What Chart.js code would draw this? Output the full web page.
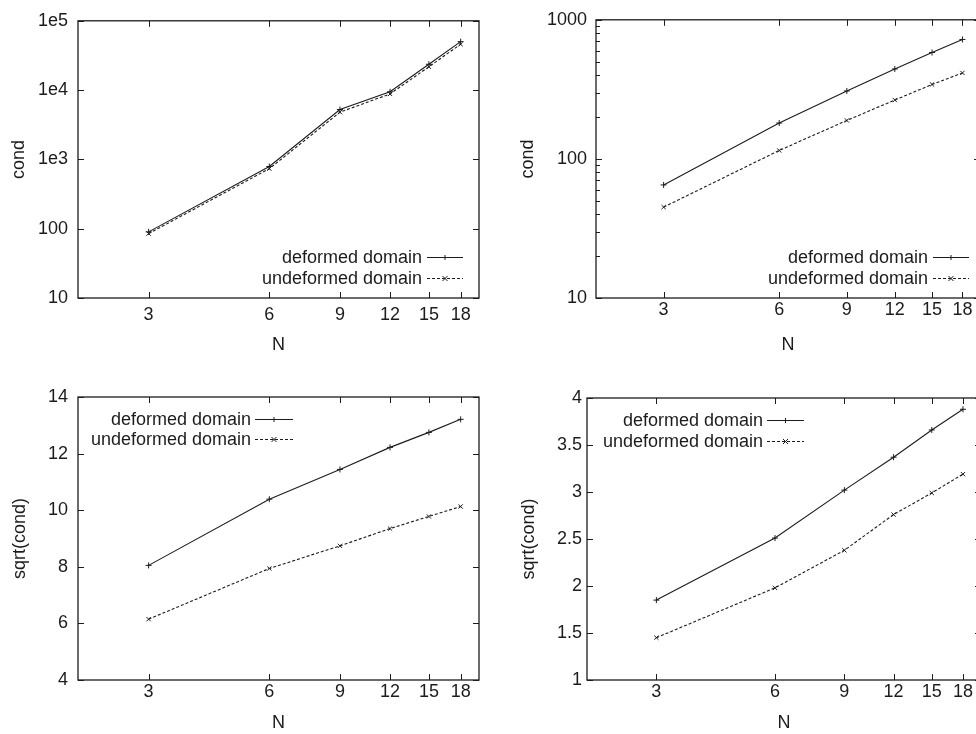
<!DOCTYPE html>
<html>
<head>
<meta charset="utf-8">
<script src="https://cdn.jsdelivr.net/npm/chart.js@4.4.1/dist/chart.umd.min.js"></script>
<style>
  html, body { margin: 0; padding: 0; background: #fff; width: 976px; height: 734px; overflow: hidden; }
  .panel { position: absolute; }
</style>
</head>
<body>
<div class="panel" style="left:0;top:0"><canvas id="c1" width="488" height="367"></canvas></div>
<div class="panel" style="left:488px;top:0"><canvas id="c2" width="500" height="367"></canvas></div>
<div class="panel" style="left:0;top:367px"><canvas id="c3" width="488" height="367"></canvas></div>
<div class="panel" style="left:488px;top:367px"><canvas id="c4" width="500" height="367"></canvas></div>
<script>
// polynomial degree N on the x axis
const N = [3, 6, 9, 12, 15, 18];
const xTicks = [3, 6, 9, 12, 15, 18];

// top left: cond, log scale
const condDefA = [90, 790, 5250, 9450, 23600, 50000];
const condUndefA = [85, 735, 4800, 8800, 21700, 46000];
const condTicksA = [10, 100, 1000, 10000, 100000];
const condLabelsA = ['10', '100', '1e3', '1e4', '1e5'];

// top right: cond, log scale
const condDefB = [65, 181, 308, 443, 582, 722];
const condUndefB = [45, 115, 189, 265, 343, 415];
const condTicksB = [10, 100, 1000];
const condLabelsB = ['10', '100', '1000'];

// bottom left: sqrt(cond)
const sqrtDefA = [8.05, 10.39, 11.44, 12.22, 12.75, 13.21];
const sqrtUndefA = [6.15, 7.94, 8.74, 9.35, 9.78, 10.13];
const sqrtTicksA = [4, 6, 8, 10, 12, 14];
const sqrtLabelsA = ['4', '6', '8', '10', '12', '14'];

// bottom right: sqrt(cond)
const sqrtDefB = [1.85, 2.51, 3.02, 3.37, 3.66, 3.88];
const sqrtUndefB = [1.45, 1.98, 2.38, 2.76, 2.99, 3.19];
const sqrtTicksB = [1, 1.5, 2, 2.5, 3, 3.5, 4];
const sqrtLabelsB = ['1', '1.5', '2', '2.5', '3', '3.5', '4'];

const INK = '#1c1c1c';
const FONT = { family: '"Liberation Sans", Arial, sans-serif', size: 18 };

function pts(vals) {
  return N.map((n, i) => ({ x: n, y: vals[i] }));
}

// gnuplot style box with inward ticks on all four sides
const framePlugin = {
  id: 'frame',
  afterDatasetsDraw(chart, args, opts) {
    const { ctx, chartArea: a, scales } = chart;
    ctx.save();
    ctx.strokeStyle = INK;
    ctx.lineWidth = 1.3;
    ctx.strokeRect(a.left, a.top, a.right - a.left, a.bottom - a.top);
    ctx.lineWidth = 1;
    ctx.beginPath();
    scales.x.ticks.forEach(t => {
      const px = Math.round(scales.x.getPixelForValue(t.value)) + 0.5;
      ctx.moveTo(px, a.bottom); ctx.lineTo(px, a.bottom - 6);
      ctx.moveTo(px, a.top); ctx.lineTo(px, a.top + 6);
    });
    scales.y.ticks.forEach(t => {
      const py = Math.round(scales.y.getPixelForValue(t.value)) + 0.5;
      ctx.moveTo(a.left, py); ctx.lineTo(a.left + 6, py);
      ctx.moveTo(a.right, py); ctx.lineTo(a.right - 6, py);
    });
    (opts.minor || []).forEach(v => {
      const py = Math.round(scales.y.getPixelForValue(v)) + 0.5;
      ctx.moveTo(a.left, py); ctx.lineTo(a.left + 4, py);
      ctx.moveTo(a.right, py); ctx.lineTo(a.right - 4, py);
    });
    ctx.stroke();
    ctx.restore();
  }
};

function drawMarker(ctx, style, x, y, r) {
  ctx.beginPath();
  if (style === 'cross') {
    ctx.moveTo(x - r, y); ctx.lineTo(x + r, y);
    ctx.moveTo(x, y - r); ctx.lineTo(x, y + r);
  } else {
    ctx.moveTo(x - r, y - r); ctx.lineTo(x + r, y + r);
    ctx.moveTo(x - r, y + r); ctx.lineTo(x + r, y - r);
  }
  ctx.stroke();
}

// key: text right aligned, line sample on the right
const keyPlugin = {
  id: 'gnuKey',
  afterDraw(chart, args, opts) {
    const { ctx } = chart;
    ctx.save();
    ctx.font = FONT.size + 'px ' + FONT.family;
    ctx.textAlign = 'right';
    ctx.textBaseline = 'middle';
    chart.data.datasets.forEach((ds, i) => {
      const y = opts.rows[i];
      ctx.fillStyle = INK;
      ctx.fillText(ds.label, opts.textRight, y + 1);
      ctx.strokeStyle = INK;
      ctx.lineWidth = 1;
      ctx.setLineDash(ds.borderDash || []);
      ctx.beginPath();
      ctx.moveTo(opts.x1, y + 0.5);
      ctx.lineTo(opts.x2, y + 0.5);
      ctx.stroke();
      ctx.setLineDash([]);
      drawMarker(ctx, ds.pointStyle, (opts.x1 + opts.x2) / 2, y + 0.5, 2.5);
    });
    ctx.restore();
  }
};

function panel(id, cfg) {
  const canvas = document.getElementById(id);
  const W = canvas.width, H = canvas.height;
  return new Chart(canvas.getContext('2d'), {
    type: 'line',
    data: {
      datasets: [
        {
          label: 'deformed domain', data: pts(cfg.def),
          borderColor: INK, borderWidth: 1.1, tension: 0, fill: false,
          pointStyle: 'cross', pointRadius: 3, pointBorderWidth: 1, pointBorderColor: INK
        },
        {
          label: 'undeformed domain', data: pts(cfg.undef),
          borderColor: INK, borderWidth: 1.1, borderDash: [3, 2], tension: 0, fill: false,
          pointStyle: 'crossRot', pointRadius: 3, pointBorderWidth: 1, pointBorderColor: INK
        }
      ]
    },
    options: {
      responsive: false,
      animation: false,
      events: [],
      layout: { padding: { left: 0, top: cfg.area.top, right: W - cfg.area.right, bottom: 0 } },
      plugins: {
        legend: { display: false },
        tooltip: { enabled: false },
        frame: { minor: cfg.minor },
        gnuKey: cfg.key
      },
      scales: {
        x: {
          type: 'logarithmic', min: 2, max: 20,
          grid: { display: false, drawTicks: false },
          border: { display: false },
          afterBuildTicks: s => { s.ticks = xTicks.map(v => ({ value: v })); },
          afterFit: s => { s.height = H - cfg.area.bottom; },
          ticks: {
            autoSkip: false, maxRotation: 0, padding: cfg.xPad,
            font: FONT, color: INK,
            callback: (v, i) => String(xTicks[i])
          },
          title: { display: true, text: 'N', font: FONT, color: INK, padding: { top: 0, bottom: cfg.xTitlePad } }
        },
        y: {
          type: cfg.yType, min: cfg.yTicks[0], max: cfg.yTicks[cfg.yTicks.length - 1],
          grid: { display: false, drawTicks: false },
          border: { display: false },
          afterBuildTicks: s => { s.ticks = cfg.yTicks.map(v => ({ value: v })); },
          afterFit: s => { s.width = cfg.area.left; },
          ticks: {
            autoSkip: false, padding: cfg.yPad,
            font: FONT, color: INK,
            callback: (v, i) => cfg.yLabels[i]
          },
          title: { display: true, text: cfg.yTitle, font: FONT, color: INK, padding: { top: cfg.yTitlePad, bottom: 0 } }
        }
      }
    },
    plugins: [framePlugin, keyPlugin]
  });
}

const minorB = [20, 30, 40, 50, 60, 70, 80, 90, 200, 300, 400, 500, 600, 700, 800, 900];

panel('c1', {
  def: condDefA, undef: condUndefA, yType: 'logarithmic',
  yTicks: condTicksA, yLabels: condLabelsA, yTitle: 'cond',
  area: { left: 78, right: 479, top: 15, bottom: 298 },
  xPad: 6, xTitlePad: 11, yPad: 10, yTitlePad: 8,
  key: { textRight: 422, x1: 427, x2: 463, rows: [257, 278] }
});

panel('c2', {
  def: condDefB, undef: condUndefB, yType: 'logarithmic',
  yTicks: condTicksB, yLabels: condLabelsB, yTitle: 'cond', minor: minorB,
  area: { left: 108, right: 492, top: 15, bottom: 298 },
  xPad: 1, xTitlePad: 11, yPad: 9, yTitlePad: 29,
  key: { textRight: 440, x1: 445, x2: 481, rows: [257, 278] }
});

panel('c3', {
  def: sqrtDefA, undef: sqrtUndefA, yType: 'linear',
  yTicks: sqrtTicksA, yLabels: sqrtLabelsA, yTitle: 'sqrt(cond)',
  area: { left: 78, right: 479, top: 30, bottom: 313 },
  xPad: 1, xTitlePad: 0, yPad: 10, yTitlePad: 9,
  key: { textRight: 251, x1: 255, x2: 293, rows: [52, 72] }
});

panel('c4', {
  def: sqrtDefB, undef: sqrtUndefB, yType: 'linear',
  yTicks: sqrtTicksB, yLabels: sqrtLabelsB, yTitle: 'sqrt(cond)',
  area: { left: 99, right: 493, top: 31, bottom: 313 },
  xPad: 1, xTitlePad: 0, yPad: 5, yTitlePad: 30,
  key: { textRight: 275, x1: 279, x2: 316, rows: [53, 74] }
});
</script>
</body>
</html>
